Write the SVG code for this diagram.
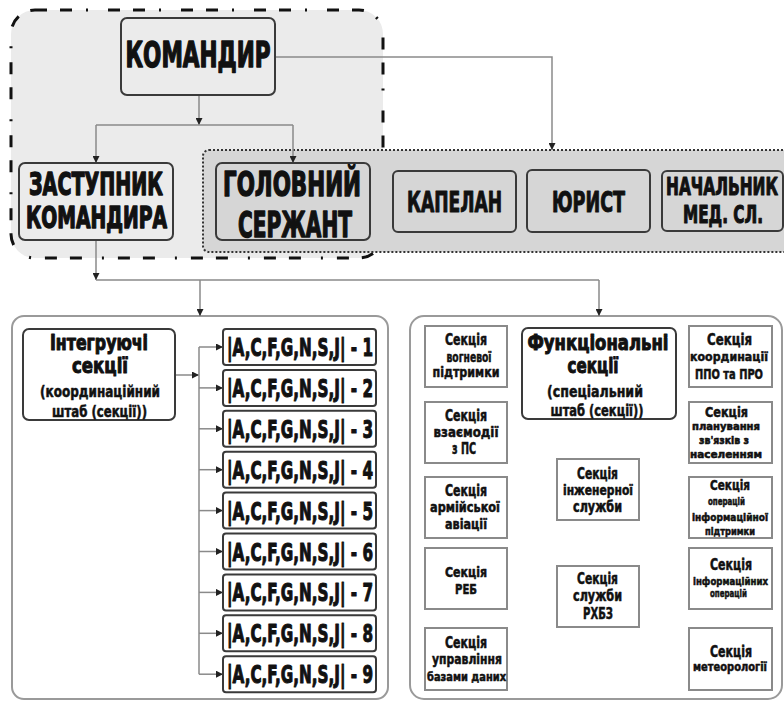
<svg xmlns="http://www.w3.org/2000/svg" width="784" height="702" viewBox="0 0 784 702">
<style>
.t{font-family:"Liberation Sans Narrow","DejaVu Sans Condensed","Liberation Sans",sans-serif;font-weight:bold;fill:#111;text-anchor:middle;stroke:#111;stroke-linejoin:round;}
.big{stroke-width:1.4;}
.mid{stroke-width:1;}
.sm{stroke-width:0.5;}
.box{fill:#ebebeb;stroke:#3a3a3a;stroke-width:2;}
.gbox{fill:#d6d6d6;stroke:#3a3a3a;stroke-width:2;}
.wbox{fill:#fff;stroke:#3a3a3a;stroke-width:2;}
.sbox{fill:#fff;stroke:#8a8a8a;stroke-width:2;}
.con{fill:none;stroke:#8a8a8a;stroke-width:1.5;}
</style>
<defs>
<marker id="ah" viewBox="0 0 10 10" refX="10" refY="5" markerWidth="7" markerHeight="7" markerUnits="userSpaceOnUse" orient="auto"><path d="M0,0 L10,5 L0,10 z" fill="#222"/></marker>
</defs>
<rect width="784" height="702" fill="#fff"/>

<g id="command-group">
<rect x="11" y="10" width="372" height="248" rx="24" ry="24" fill="#ebebeb" stroke="#111" stroke-width="3" stroke-dasharray="12 13 12 14 2 20"/>
</g>
<g id="staff-group">
<rect x="203" y="150" width="600" height="102" rx="6" ry="6" fill="#d6d6d6" stroke="#333" stroke-width="2" stroke-dasharray="2 2"/>
</g>
<g id="left-panel">
<rect x="12" y="316" width="376" height="383" rx="12" ry="12" fill="#fff" stroke="#9a9a9a" stroke-width="2"/>
</g>
<g id="right-panel">
<rect x="410" y="316" width="372" height="383" rx="14" ry="14" fill="#fff" stroke="#9a9a9a" stroke-width="2"/>
</g>

<g id="connectors">
<path class="con" d="M199,95 V125" marker-end="url(#ah)"/>
<path class="con" d="M96,125 H293"/>
<path class="con" d="M96,125 V163" marker-end="url(#ah)"/>
<path class="con" d="M293,125 V163" marker-end="url(#ah)"/>
<path class="con" d="M275,57 H552 V150" marker-end="url(#ah)"/>
<path class="con" d="M96,240 V280" marker-end="url(#ah)"/>
<path class="con" d="M96,280 H599"/>
<path class="con" d="M200,280 V316" marker-end="url(#ah)"/>
<path class="con" d="M599,280 V316" marker-end="url(#ah)"/>
<path class="con" d="M175,375 H199" marker-end="url(#ah)"/>
<path class="con" d="M199,347 V674.2"/>
<path class="con" d="M199,347 H223" marker-end="url(#ah)"/>
<path class="con" d="M199,387.9 H223" marker-end="url(#ah)"/>
<path class="con" d="M199,428.8 H223" marker-end="url(#ah)"/>
<path class="con" d="M199,469.7 H223" marker-end="url(#ah)"/>
<path class="con" d="M199,510.6 H223" marker-end="url(#ah)"/>
<path class="con" d="M199,551.5 H223" marker-end="url(#ah)"/>
<path class="con" d="M199,592.4 H223" marker-end="url(#ah)"/>
<path class="con" d="M199,633.3 H223" marker-end="url(#ah)"/>
<path class="con" d="M199,674.2 H223" marker-end="url(#ah)"/>
</g>

<g id="commander">
<rect class="box" x="121" y="18" width="154" height="77" rx="6"/>
<text class="t big" x="198" y="67" font-size="35" textLength="145" lengthAdjust="spacingAndGlyphs">КОМАНДИР</text>
</g>
<g id="deputy">
<rect class="box" x="19" y="163" width="154" height="77" rx="6"/>
<text class="t big" x="96" y="195" font-size="32" textLength="134" lengthAdjust="spacingAndGlyphs">ЗАСТУПНИК</text>
<text class="t big" x="96.5" y="228" font-size="30" textLength="141" lengthAdjust="spacingAndGlyphs">КОМАНДИРА</text>
</g>
<g id="sergeant">
<rect class="gbox" x="216" y="163" width="154" height="77" rx="6"/>
<text class="t big" x="292" y="196" font-size="34" textLength="138" lengthAdjust="spacingAndGlyphs">ГОЛОВНИЙ</text>
<text class="t big" x="295" y="237" font-size="35" textLength="114" lengthAdjust="spacingAndGlyphs">СЕРЖАНТ</text>
</g>
<g id="chaplain">
<rect class="gbox" x="393" y="171" width="123" height="61" rx="5"/>
<text class="t mid" x="454.5" y="212" font-size="28" textLength="95" lengthAdjust="spacingAndGlyphs">КАПЕЛАН</text>
</g>
<g id="lawyer">
<rect class="gbox" x="527" y="170" width="123" height="62" rx="5"/>
<text class="t mid" x="588.5" y="212" font-size="28" textLength="73" lengthAdjust="spacingAndGlyphs">ЮРИСТ</text>
</g>
<g id="medical">
<rect class="gbox" x="662" y="171" width="121" height="60" rx="5"/>
<text class="t mid" x="722" y="195" font-size="24" textLength="112" lengthAdjust="spacingAndGlyphs">НАЧАЛЬНИК</text>
<text class="t mid" x="723" y="223" font-size="24" textLength="80" lengthAdjust="spacingAndGlyphs">МЕД. СЛ.</text>
</g>

<g id="integrating">
<rect class="wbox" x="23" y="329" width="152" height="91" rx="6"/>
<text class="t mid" x="99" y="350" font-size="21" textLength="98" lengthAdjust="spacingAndGlyphs">Інтегруючі</text>
<text class="t mid" x="100" y="373" font-size="22" textLength="56" lengthAdjust="spacingAndGlyphs">секції</text>
<text class="t sm" x="100" y="397" font-size="15" textLength="120" lengthAdjust="spacingAndGlyphs">(координаційний</text>
<text class="t sm" x="99.5" y="417" font-size="15" textLength="95" lengthAdjust="spacingAndGlyphs">штаб (секції))</text>
</g>

<g id="sec-1"><rect class="wbox" x="223" y="329" width="153" height="36" rx="3"/><text class="t mid" x="300" y="356" font-size="24" textLength="146" lengthAdjust="spacingAndGlyphs">|A,C,F,G,N,S,J| - 1</text></g>
<g id="sec-2"><rect class="wbox" x="223" y="369.9" width="153" height="36" rx="3"/><text class="t mid" x="300" y="396.9" font-size="24" textLength="146" lengthAdjust="spacingAndGlyphs">|A,C,F,G,N,S,J| - 2</text></g>
<g id="sec-3"><rect class="wbox" x="223" y="410.8" width="153" height="36" rx="3"/><text class="t mid" x="300" y="437.8" font-size="24" textLength="146" lengthAdjust="spacingAndGlyphs">|A,C,F,G,N,S,J| - 3</text></g>
<g id="sec-4"><rect class="wbox" x="223" y="451.7" width="153" height="36" rx="3"/><text class="t mid" x="300" y="478.7" font-size="24" textLength="146" lengthAdjust="spacingAndGlyphs">|A,C,F,G,N,S,J| - 4</text></g>
<g id="sec-5"><rect class="wbox" x="223" y="492.6" width="153" height="36" rx="3"/><text class="t mid" x="300" y="519.6" font-size="24" textLength="146" lengthAdjust="spacingAndGlyphs">|A,C,F,G,N,S,J| - 5</text></g>
<g id="sec-6"><rect class="wbox" x="223" y="533.5" width="153" height="36" rx="3"/><text class="t mid" x="300" y="560.5" font-size="24" textLength="146" lengthAdjust="spacingAndGlyphs">|A,C,F,G,N,S,J| - 6</text></g>
<g id="sec-7"><rect class="wbox" x="223" y="574.4" width="153" height="36" rx="3"/><text class="t mid" x="300" y="601.4" font-size="24" textLength="146" lengthAdjust="spacingAndGlyphs">|A,C,F,G,N,S,J| - 7</text></g>
<g id="sec-8"><rect class="wbox" x="223" y="615.3" width="153" height="36" rx="3"/><text class="t mid" x="300" y="642.3" font-size="24" textLength="146" lengthAdjust="spacingAndGlyphs">|A,C,F,G,N,S,J| - 8</text></g>
<g id="sec-9"><rect class="wbox" x="223" y="656.2" width="153" height="36" rx="3"/><text class="t mid" x="300" y="683.2" font-size="24" textLength="146" lengthAdjust="spacingAndGlyphs">|A,C,F,G,N,S,J| - 9</text></g>

<g id="functional">
<rect class="wbox" x="522" y="328" width="154" height="91" rx="6"/>
<text class="t mid" x="598" y="350" font-size="22" textLength="141" lengthAdjust="spacingAndGlyphs">Функціональні</text>
<text class="t mid" x="593" y="373" font-size="22" textLength="51" lengthAdjust="spacingAndGlyphs">секції</text>
<text class="t sm" x="595" y="397" font-size="16" textLength="96" lengthAdjust="spacingAndGlyphs">(спеціальний</text>
<text class="t sm" x="597" y="416" font-size="16" textLength="93" lengthAdjust="spacingAndGlyphs">штаб (секції))</text>
</g>

<g id="fire-support">
<rect class="sbox" x="425" y="326" width="82" height="61"/>
<text class="t sm" x="466" y="345" font-size="15" textLength="42" lengthAdjust="spacingAndGlyphs">Секція</text>
<text class="t sm" x="469" y="362" font-size="14" textLength="45" lengthAdjust="spacingAndGlyphs">вогневої</text>
<text class="t sm" x="466" y="377" font-size="14" textLength="67" lengthAdjust="spacingAndGlyphs">підтримки</text>
</g>
<g id="interaction">
<rect class="sbox" x="425" y="402" width="82" height="61"/>
<text class="t sm" x="466" y="421" font-size="15" textLength="42" lengthAdjust="spacingAndGlyphs">Секція</text>
<text class="t sm" x="466" y="437" font-size="14" textLength="65" lengthAdjust="spacingAndGlyphs">взаємодії</text>
<text class="t sm" x="464" y="454" font-size="15" textLength="24" lengthAdjust="spacingAndGlyphs">з ПС</text>
</g>
<g id="aviation">
<rect class="sbox" x="425" y="477" width="82" height="61"/>
<text class="t sm" x="466" y="496" font-size="15" textLength="42" lengthAdjust="spacingAndGlyphs">Секція</text>
<text class="t sm" x="465" y="512" font-size="14" textLength="70" lengthAdjust="spacingAndGlyphs">армійської</text>
<text class="t sm" x="466" y="529" font-size="14" textLength="42" lengthAdjust="spacingAndGlyphs">авіації</text>
</g>
<g id="ew">
<rect class="sbox" x="425" y="548" width="82" height="61"/>
<text class="t sm" x="466" y="577" font-size="14" textLength="42" lengthAdjust="spacingAndGlyphs">Секція</text>
<text class="t sm" x="466" y="594" font-size="14" textLength="22" lengthAdjust="spacingAndGlyphs">РЕБ</text>
</g>
<g id="database">
<rect class="sbox" x="425" y="628" width="82" height="62"/>
<text class="t sm" x="466" y="648" font-size="15" textLength="42" lengthAdjust="spacingAndGlyphs">Секція</text>
<text class="t sm" x="467" y="664" font-size="14" textLength="70" lengthAdjust="spacingAndGlyphs">управління</text>
<text class="t sm" x="466.5" y="681" font-size="12" textLength="79" lengthAdjust="spacingAndGlyphs">базами даних</text>
</g>

<g id="engineering">
<rect class="sbox" x="557" y="459" width="82" height="61"/>
<text class="t sm" x="597.5" y="479" font-size="15" textLength="41" lengthAdjust="spacingAndGlyphs">Секція</text>
<text class="t sm" x="598" y="495" font-size="14" textLength="70" lengthAdjust="spacingAndGlyphs">інженерної</text>
<text class="t sm" x="597.5" y="512" font-size="15" textLength="49" lengthAdjust="spacingAndGlyphs">служби</text>
</g>
<g id="cbrn">
<rect class="sbox" x="557" y="566" width="82" height="61"/>
<text class="t sm" x="597.5" y="584" font-size="15" textLength="41" lengthAdjust="spacingAndGlyphs">Секція</text>
<text class="t sm" x="597.5" y="601" font-size="15" textLength="49" lengthAdjust="spacingAndGlyphs">служби</text>
<text class="t sm" x="598" y="619" font-size="15" textLength="30" lengthAdjust="spacingAndGlyphs">РХБЗ</text>
</g>

<g id="air-defense">
<rect class="sbox" x="689" y="326" width="83" height="61"/>
<text class="t sm" x="729.5" y="345" font-size="15" textLength="45" lengthAdjust="spacingAndGlyphs">Секція</text>
<text class="t sm" x="729" y="361" font-size="13" textLength="78" lengthAdjust="spacingAndGlyphs">координації</text>
<text class="t sm" x="729" y="379" font-size="14" textLength="68" lengthAdjust="spacingAndGlyphs">ППО та ПРО</text>
</g>
<g id="civil-liaison">
<rect class="sbox" x="689" y="402" width="83" height="61"/>
<text class="t sm" x="726.5" y="417" font-size="14" textLength="43" lengthAdjust="spacingAndGlyphs">Секція</text>
<text class="t sm" x="726" y="430" font-size="10" textLength="68" lengthAdjust="spacingAndGlyphs">планування</text>
<text class="t sm" x="724" y="444" font-size="10" textLength="50" lengthAdjust="spacingAndGlyphs">зв'язків з</text>
<text class="t sm" x="726" y="458" font-size="10" textLength="72" lengthAdjust="spacingAndGlyphs">населенням</text>
</g>
<g id="info-support">
<rect class="sbox" x="689" y="477" width="83" height="61"/>
<text class="t sm" x="730" y="490" font-size="14" textLength="40" lengthAdjust="spacingAndGlyphs">Секція</text>
<text class="t sm" x="726.5" y="505" font-size="10" textLength="37" lengthAdjust="spacingAndGlyphs">операцій</text>
<text class="t sm" x="730" y="521" font-size="10" textLength="76" lengthAdjust="spacingAndGlyphs">інформаційної</text>
<text class="t sm" x="730" y="535" font-size="10" textLength="50" lengthAdjust="spacingAndGlyphs">підтримки</text>
</g>
<g id="info-ops">
<rect class="sbox" x="689" y="548" width="83" height="61"/>
<text class="t sm" x="731" y="570" font-size="15" textLength="42" lengthAdjust="spacingAndGlyphs">Секція</text>
<text class="t sm" x="730.5" y="585" font-size="11" textLength="75" lengthAdjust="spacingAndGlyphs">інформаційних</text>
<text class="t sm" x="728.5" y="597" font-size="11" textLength="37" lengthAdjust="spacingAndGlyphs">операцій</text>
</g>
<g id="meteorology">
<rect class="sbox" x="689" y="628" width="83" height="62"/>
<text class="t sm" x="731" y="657" font-size="15" textLength="42" lengthAdjust="spacingAndGlyphs">Секція</text>
<text class="t sm" x="730" y="671" font-size="12" textLength="74" lengthAdjust="spacingAndGlyphs">метеорології</text>
</g>
</svg>
